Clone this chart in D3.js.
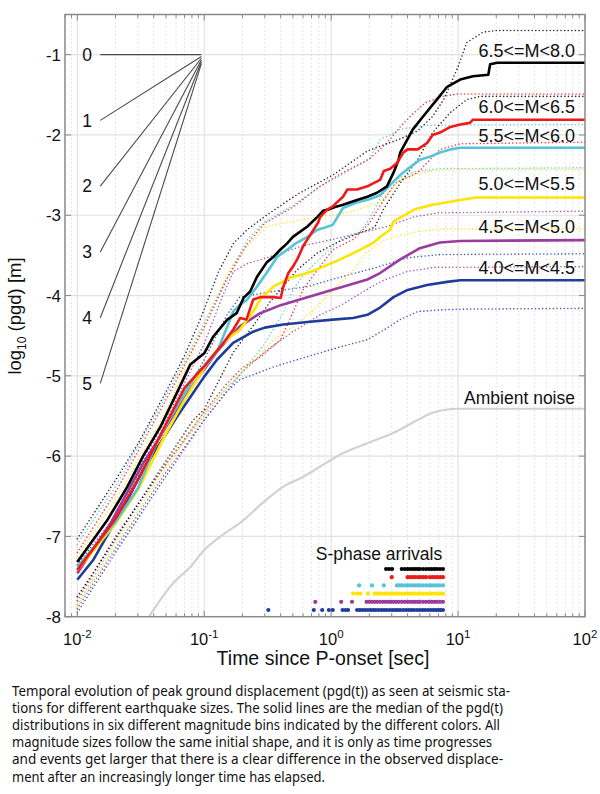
<!DOCTYPE html>
<html><head><meta charset="utf-8">
<script src="https://cdn.jsdelivr.net/npm/d3@7"></script>
<style>body{margin:0;background:#fff}</style>
</head><body>
<svg id="c" width="600" height="794" xmlns="http://www.w3.org/2000/svg"></svg>
<script>
// ---------------- DATA ----------------
const binLabels = ["6.5<=M<8.0", "6.0<=M<6.5", "5.5<=M<6.0", "5.0<=M<5.5", "4.5<=M<5.0", "4.0<=M<4.5"];
const xTickValues = [0.01, 0.1, 1, 10, 100];
const xTickExponents = ["-2", "-1", "0", "1", "2"];
const yTickValues = [-8, -7, -6, -5, -4, -3, -2, -1];
const refSlopes = [0, 1, 2, 3, 4, 5];

// medians [time s, log10 pgd]
const median_65_80 = [[0.01,-7.32],[0.0172,-6.8],[0.0248,-6.38],[0.033,-6.0],[0.045,-5.64],[0.061,-5.21],[0.0776,-4.86],[0.1,-4.72],[0.118,-4.51],[0.152,-4.3],[0.18,-4.22],[0.204,-4.03],[0.23,-3.95],[0.26,-3.77],[0.31,-3.59],[0.35,-3.52],[0.397,-3.43],[0.45,-3.35],[0.5,-3.27],[0.65,-3.14],[0.78,-3.02],[0.87,-2.94],[0.95,-2.93],[1.11,-2.89],[1.24,-2.87],[1.6,-2.81],[1.93,-2.77],[2.3,-2.72],[2.75,-2.64],[3.1,-2.47],[3.4,-2.31],[3.5,-2.22],[4.4,-1.93],[5.3,-1.77],[6.8,-1.56],[8.2,-1.4],[10.4,-1.31],[13.1,-1.27],[17.3,-1.25],[17.9,-1.12],[20.3,-1.1],[100,-1.1]];
const median_60_65 = [[0.01,-7.42],[0.02,-6.78],[0.03,-6.3],[0.05,-5.6],[0.07,-5.15],[0.1,-4.88],[0.14,-4.6],[0.17,-4.42],[0.192,-4.28],[0.215,-4.3],[0.243,-4.05],[0.276,-4.02],[0.35,-4.02],[0.4,-4.03],[0.42,-3.89],[0.46,-3.72],[0.5,-3.64],[0.54,-3.55],[0.57,-3.47],[0.6,-3.39],[0.65,-3.3],[0.79,-3.09],[0.82,-3.02],[0.93,-2.93],[1.03,-2.89],[1.11,-2.84],[1.24,-2.77],[1.34,-2.68],[1.6,-2.68],[1.93,-2.64],[2.16,-2.6],[2.43,-2.56],[2.6,-2.45],[2.92,-2.42],[3.3,-2.35],[3.7,-2.22],[4.0,-2.18],[4.8,-2.18],[5.7,-2.1],[6.3,-2.0],[7.2,-1.97],[8.7,-1.9],[10.4,-1.87],[12.4,-1.85],[13.1,-1.81],[100,-1.81]];
const median_55_60 = [[0.01,-7.38],[0.02,-6.82],[0.03,-6.4],[0.043,-5.8],[0.057,-5.46],[0.073,-5.17],[0.088,-4.96],[0.106,-4.85],[0.126,-4.7],[0.152,-4.39],[0.169,-4.2],[0.19,-4.12],[0.218,-4.05],[0.26,-3.89],[0.31,-3.72],[0.375,-3.52],[0.45,-3.43],[0.54,-3.34],[0.65,-3.27],[0.78,-3.18],[0.87,-3.16],[1.03,-3.12],[1.24,-2.91],[1.6,-2.84],[2.0,-2.8],[2.43,-2.75],[2.92,-2.62],[3.5,-2.5],[4.2,-2.4],[5.0,-2.31],[6.0,-2.27],[7.2,-2.22],[8.7,-2.18],[10.4,-2.16],[100,-2.16]];
const median_50_55 = [[0.01,-7.42],[0.02,-6.84],[0.03,-6.42],[0.05,-5.72],[0.07,-5.3],[0.1,-4.9],[0.13,-4.65],[0.16,-4.51],[0.19,-4.43],[0.218,-4.3],[0.243,-4.2],[0.276,-4.05],[0.31,-3.97],[0.35,-3.89],[0.475,-3.78],[0.65,-3.72],[0.87,-3.64],[1.18,-3.55],[1.6,-3.45],[2.16,-3.34],[2.43,-3.27],[2.92,-3.18],[3.1,-3.08],[3.5,-3.03],[4.5,-2.93],[6.3,-2.87],[10.4,-2.81],[14,-2.78],[100,-2.78]];
const median_45_50 = [[0.01,-7.46],[0.0182,-6.84],[0.033,-6.09],[0.061,-5.42],[0.093,-4.98],[0.1,-4.92],[0.126,-4.7],[0.152,-4.55],[0.192,-4.38],[0.276,-4.22],[0.4,-4.12],[0.65,-4.02],[1.18,-3.9],[1.93,-3.8],[2.43,-3.72],[3.5,-3.55],[5.0,-3.41],[7.2,-3.34],[10.4,-3.32],[100,-3.31]];
const median_40_45 = [[0.01,-7.54],[0.0134,-7.29],[0.0182,-6.92],[0.0248,-6.55],[0.033,-6.17],[0.045,-5.84],[0.061,-5.51],[0.082,-5.21],[0.1,-5.01],[0.126,-4.8],[0.169,-4.59],[0.243,-4.45],[0.3,-4.4],[0.42,-4.36],[0.65,-4.33],[1.03,-4.3],[1.49,-4.28],[1.93,-4.24],[2.43,-4.15],[3.1,-4.02],[4.0,-3.93],[5.7,-3.87],[8.2,-3.83],[10.4,-3.81],[100,-3.81]];

// upper / lower dotted percentiles
const upper_65_80 = [[0.01,-7.03],[0.02,-6.3],[0.03,-5.85],[0.05,-5.2],[0.07,-4.75],[0.093,-4.3],[0.13,-3.7],[0.17,-3.35],[0.218,-3.18],[0.31,-3.0],[0.475,-2.8],[0.57,-2.72],[1.03,-2.5],[1.93,-2.2],[3.5,-2.05],[4.8,-1.95],[6.3,-1.77],[7.7,-1.56],[10,-1.15],[11.7,-0.85],[15.7,-0.72],[20,-0.7],[100,-0.7]];
const lower_65_80 = [[0.01,-7.75],[0.0134,-7.45],[0.0248,-6.8],[0.045,-6.17],[0.082,-5.55],[0.1,-5.42],[0.169,-4.71],[0.25,-4.35],[0.33,-4.08],[0.54,-3.68],[0.78,-3.47],[1.11,-3.34],[1.5,-3.25],[2.2,-3.15],[2.6,-2.92],[3.5,-2.6],[4.8,-2.31],[6.3,-1.97],[8.7,-1.72],[11.7,-1.56],[15,-1.52],[100,-1.52]];
const upper_60_65 = [[0.01,-7.2],[0.02,-6.45],[0.05,-5.3],[0.1,-4.4],[0.15,-3.8],[0.22,-3.35],[0.3,-3.1],[0.5,-2.9],[0.8,-2.65],[1.2,-2.48],[2.0,-2.3],[2.75,-2.1],[3.5,-1.9],[4.2,-1.77],[5.5,-1.6],[7.5,-1.52],[10,-1.49],[100,-1.49]];
const lower_60_65 = [[0.01,-7.8],[0.02,-7.0],[0.05,-6.1],[0.1,-5.45],[0.15,-5.1],[0.2,-4.9],[0.28,-4.76],[0.4,-4.55],[0.5,-4.21],[0.6,-3.93],[0.78,-3.68],[1.03,-3.43],[1.5,-3.3],[2.0,-3.1],[2.5,-2.85],[3.2,-2.6],[4.8,-2.47],[7.2,-2.18],[10.4,-2.11],[100,-2.09]];
const upper_55_60 = [[0.01,-7.1],[0.02,-6.38],[0.05,-5.25],[0.1,-4.35],[0.15,-3.8],[0.22,-3.3],[0.3,-3.08],[0.5,-2.88],[0.8,-2.65],[1.2,-2.5],[2.0,-2.3],[2.43,-2.06],[3.5,-1.93],[5.7,-1.88],[100,-1.87]];
const lower_55_60 = [[0.01,-7.85],[0.02,-7.05],[0.05,-6.1],[0.1,-5.5],[0.15,-5.15],[0.2,-4.95],[0.3,-4.6],[0.42,-4.21],[0.5,-3.93],[0.6,-3.75],[0.8,-3.55],[1.2,-3.3],[1.7,-3.2],[2.0,-3.05],[2.5,-2.75],[3.2,-2.56],[4.5,-2.46],[7,-2.42],[100,-2.41]];
const upper_50_55 = [[0.01,-7.25],[0.02,-6.55],[0.05,-5.45],[0.1,-4.35],[0.14,-3.85],[0.17,-3.6],[0.2,-3.45],[0.31,-3.14],[0.57,-3.06],[1.34,-2.97],[2.4,-2.84],[3.5,-2.56],[5,-2.47],[8,-2.43],[100,-2.43]];
const lower_50_55 = [[0.01,-7.88],[0.02,-7.1],[0.05,-6.15],[0.1,-5.45],[0.15,-5.15],[0.2,-4.95],[0.28,-4.72],[0.35,-4.55],[0.5,-4.39],[0.73,-4.18],[1.03,-3.93],[1.5,-3.68],[1.93,-3.45],[2.7,-3.3],[3.5,-3.25],[5,-3.2],[8,-3.17],[100,-3.17]];
const upper_45_50 = [[0.01,-7.3],[0.02,-6.65],[0.05,-5.55],[0.1,-4.6],[0.14,-4.0],[0.17,-3.7],[0.22,-3.6],[0.31,-3.53],[0.57,-3.39],[1.03,-3.3],[1.69,-3.22],[2.75,-3.14],[4.5,-3.02],[7,-2.97],[100,-2.95]];
const lower_45_50 = [[0.01,-7.9],[0.02,-7.15],[0.05,-6.2],[0.1,-5.55],[0.15,-5.2],[0.2,-4.95],[0.3,-4.7],[0.5,-4.45],[0.8,-4.25],[1.2,-4.12],[1.8,-3.95],[2.5,-3.82],[4,-3.7],[6.5,-3.65],[100,-3.64]];
const upper_40_45 = [[0.01,-7.35],[0.02,-6.75],[0.05,-5.65],[0.1,-4.8],[0.15,-4.25],[0.19,-4.02],[0.35,-3.95],[0.65,-3.89],[1.18,-3.77],[2.16,-3.66],[4.0,-3.53],[7.2,-3.49],[100,-3.48]];
const lower_40_45 = [[0.01,-7.95],[0.02,-7.2],[0.05,-6.25],[0.1,-5.55],[0.15,-5.2],[0.19,-5.05],[0.35,-4.89],[0.65,-4.76],[1.18,-4.64],[1.93,-4.55],[2.6,-4.43],[3.5,-4.3],[4.8,-4.2],[7.2,-4.18],[10.4,-4.17],[100,-4.16]];

const ambientNoise = [[0.036,-8.02],[0.057,-7.58],[0.0776,-7.38],[0.1,-7.17],[0.152,-6.94],[0.192,-6.83],[0.29,-6.58],[0.42,-6.38],[0.6,-6.26],[0.82,-6.13],[1.18,-5.98],[1.93,-5.84],[3.1,-5.71],[4.8,-5.55],[6.3,-5.46],[10,-5.41],[100,-5.41]];

// S-phase arrival times (s)
const sArr_65_80 = [2.71,2.86,3.02,3.6,3.8,4.0,4.2,4.4,4.6,4.8,5.0,5.3,5.6,5.9,6.2,6.5,6.8,7.2,7.6];
const sArr_60_65 = [3.0,4.0,4.2,4.4,4.6,4.85,5.1,5.35,5.6,6.0,6.3,6.6,6.9,7.25,7.6];
const sArr_55_60 = [1.66,2.1,2.6,3.3,3.45,3.6,3.8,4.0,4.2,4.4,4.6,4.8,5.0,5.3,5.6,5.9,6.2,6.5,6.8,7.2,7.6];
const sArr_50_55 = [1.49,1.6,1.7,1.95,2.2,2.3,2.4,2.5,2.65,2.8,2.95,3.1,3.25,3.4,3.6,3.8,4.0,4.2,4.4,4.6,4.8,5.0,5.3,5.6,5.9,6.2,6.5,6.8,7.2,7.6];
const sArr_45_50 = [0.75,1.2,1.46,1.9,2.0,2.1,2.2,2.3,2.42,2.55,2.68,2.82,2.96,3.1,3.25,3.4,3.6,3.8,4.0,4.2,4.4,4.6,4.8,5.0,5.3,5.6,5.9,6.2,6.5,6.8,7.2,7.6];
const sArr_40_45 = [0.32,0.73,0.85,0.96,1.03,1.23,1.3,1.36,1.6,1.68,1.76,1.85,1.95,2.05,2.15,2.25,2.37,2.5,2.62,2.75,2.9,3.05,3.2,3.35,3.5,3.7,3.9,4.1,4.3,4.5,4.75,5.0,5.25,5.5,5.8,6.1,6.4,6.7,7.0,7.3,7.6];

const captionLines = [
  "Temporal evolution of peak ground displacement (pgd(t)) as seen at seismic sta-",
  "tions for different earthquake sizes. The solid lines are the median of the pgd(t)",
  "distributions in six different magnitude bins indicated by the different colors. All",
  "magnitude sizes follow the same initial shape, and it is only as time progresses",
  "and events get larger that there is a clear difference in the observed displace-",
  "ment after an increasingly longer time has elapsed."
];

// ---------------- STYLE / LAYOUT ----------------
const binColors = ["#000000", "#f01818", "#55c3d8", "#ffe400", "#9a3b9e", "#1f3c9c"];
const medians = [median_65_80, median_60_65, median_55_60, median_50_55, median_45_50, median_40_45];
const uppers = [upper_65_80, upper_60_65, upper_55_60, upper_50_55, upper_45_50, upper_40_45];
const lowers = [lower_65_80, lower_60_65, lower_55_60, lower_50_55, lower_45_50, lower_40_45];
const sArrivals = [sArr_65_80, sArr_60_65, sArr_55_60, sArr_50_55, sArr_45_50, sArr_40_45];
const labelBaselines = [56.5, 113, 141.5, 190, 233, 274];
const captionWidths = [498, 491, 488, 480, 491, 313];

const FONT = "'Liberation Sans', Arial, Helvetica, sans-serif";
const L = 65, R = 585, T = 14.5, B = 616.7;
const svg = d3.select("#c");
const x = d3.scaleLog().domain([0.008, 100]).range([L, R]);
const y = d3.scaleLinear().domain([-8, -0.5]).range([B, T]);
const isMajor = t => Math.abs(Math.log10(t) - Math.round(Math.log10(t))) < 1e-9;
const allXTicks = x.ticks().filter(t => t >= 0.008 && t <= 100);

svg.append("defs").append("clipPath").attr("id", "plotclip")
  .append("rect").attr("x", L).attr("y", T).attr("width", R - L).attr("height", B - T);

// grid
const grid = svg.append("g");
grid.selectAll(".vminor").data(allXTicks.filter(t => !isMajor(t) && t > 0.0081 && t < 99))
  .join("line").attr("x1", d => x(d)).attr("x2", d => x(d)).attr("y1", T).attr("y2", B)
  .attr("stroke", "#cccccc").attr("stroke-width", 1).attr("stroke-dasharray", "1,3");
grid.selectAll(".vmajor").data(xTickValues.filter(t => t < 100))
  .join("line").attr("x1", d => x(d)).attr("x2", d => x(d)).attr("y1", T).attr("y2", B)
  .attr("stroke", "#e2e2e2").attr("stroke-width", 1.2);
grid.selectAll(".hmajor").data(yTickValues.filter(v => v > -8))
  .join("line").attr("x1", L).attr("x2", R).attr("y1", d => y(d)).attr("y2", d => y(d))
  .attr("stroke", "#e2e2e2").attr("stroke-width", 1.2);

const line = d3.line().x(d => x(d[0])).y(d => y(d[1]));
const plot = svg.append("g").attr("clip-path", "url(#plotclip)");

// ambient noise
plot.append("path").datum(ambientNoise).attr("d", line.curve(d3.curveMonotoneX)).attr("fill", "none")
  .attr("stroke", "#d2d2d2").attr("stroke-width", 2.2);
line.curve(d3.curveLinear);

// dotted envelopes
[5, 4, 3, 2, 1, 0].forEach(i => {
  [uppers[i], lowers[i]].forEach(arr => {
    plot.append("path").datum(arr).attr("d", line).attr("fill", "none")
      .attr("stroke", binColors[i]).attr("stroke-width", 1.6)
      .attr("stroke-linecap", "round").attr("stroke-dasharray", "0,3.6")
      .attr("opacity", 0.85);
  });
});
// medians
[5, 4, 3, 2, 0, 1].forEach(i => {
  plot.append("path").datum(medians[i]).attr("d", line).attr("fill", "none")
    .attr("stroke", binColors[i]).attr("stroke-width", 2.6).attr("stroke-linejoin", "round");
});

// reference slope lines
const tStart = 0.01517, tEnd = 0.095;
const ref = svg.append("g");
ref.selectAll("line").data(refSlopes).join("line")
  .attr("x1", x(tStart)).attr("y1", k => y(-1 + k * Math.log10(tStart / 0.1)))
  .attr("x2", x(tEnd)).attr("y2", k => y(-1 + k * Math.log10(tEnd / 0.1)))
  .attr("stroke", "#4a4a4a").attr("stroke-width", 1.1);
ref.selectAll("text").data(refSlopes).join("text")
  .attr("x", 87).attr("y", k => y(-1 + k * Math.log10(tStart / 0.1)))
  .attr("dy", "0.36em").attr("text-anchor", "middle")
  .attr("font-family", FONT).attr("font-size", 17.5).attr("fill", "#111").text(k => k);

// bin labels
svg.append("g").selectAll("text").data(binLabels).join("text")
  .attr("x", 575).attr("y", (d, i) => labelBaselines[i]).attr("text-anchor", "end")
  .attr("font-family", FONT).attr("font-size", 18).attr("fill", "#111").text(d => d);

svg.append("text").attr("x", 575).attr("y", 404).attr("text-anchor", "end")
  .attr("font-family", FONT).attr("font-size", 17.5).attr("fill", "#111").text("Ambient noise");

// S-phase arrivals
svg.append("text").attr("x", 379).attr("y", 560).attr("text-anchor", "middle")
  .attr("font-family", FONT).attr("font-size", 17.5).attr("fill", "#111").text("S-phase arrivals");
sArrivals.forEach((arr, i) => {
  svg.append("g").selectAll("circle").data(arr).join("circle")
    .attr("cx", d => x(d)).attr("cy", 569 + i * 8.2).attr("r", 2.1)
    .attr("fill", binColors[i]);
});

// frame & ticks
const axes = svg.append("g").attr("stroke", "#8a8a8a");
axes.append("rect").attr("x", L).attr("y", T).attr("width", R - L).attr("height", B - T)
  .attr("fill", "none").attr("stroke-width", 1.5);
const tickLen = t => isMajor(t) ? 6 : 3.5;
axes.selectAll(".xb").data(allXTicks).join("line")
  .attr("x1", d => x(d)).attr("x2", d => x(d)).attr("y1", B).attr("y2", d => B - tickLen(d)).attr("stroke-width", 1);
axes.selectAll(".xt").data(allXTicks).join("line")
  .attr("x1", d => x(d)).attr("x2", d => x(d)).attr("y1", T).attr("y2", d => T + tickLen(d)).attr("stroke-width", 1);
axes.selectAll(".yl").data(yTickValues).join("line")
  .attr("x1", L).attr("x2", L + 6).attr("y1", d => y(d)).attr("y2", d => y(d)).attr("stroke-width", 1);
axes.selectAll(".yr").data(yTickValues).join("line")
  .attr("x1", R).attr("x2", R - 6).attr("y1", d => y(d)).attr("y2", d => y(d)).attr("stroke-width", 1);

// tick labels
svg.append("g").selectAll("text").data(yTickValues).join("text")
  .attr("x", 61).attr("y", d => y(d)).attr("dy", "0.36em").attr("text-anchor", "end")
  .attr("font-family", FONT).attr("font-size", 17).attr("fill", "#111").text(d => d);
const xl = svg.append("g").selectAll("text").data(xTickValues).join("text")
  .attr("x", d => x(d)).attr("y", 645).attr("text-anchor", "middle")
  .attr("font-family", FONT).attr("font-size", 16.5).attr("fill", "#111");
xl.append("tspan").text("10");
xl.append("tspan").attr("font-size", 11.5).attr("dy", -7.5).text((d, i) => xTickExponents[i]);

// axis titles
svg.append("text").attr("x", 323).attr("y", 665).attr("text-anchor", "middle")
  .attr("font-family", FONT).attr("font-size", 19.5).attr("fill", "#111").text("Time since P-onset [sec]");
const yt = svg.append("text").attr("transform", "translate(21,316) rotate(-90)")
  .attr("text-anchor", "middle").attr("font-family", FONT).attr("font-size", 18.5).attr("fill", "#111");
yt.append("tspan").text("log");
yt.append("tspan").attr("font-size", 12).attr("dy", 5).text("10");
yt.append("tspan").attr("dy", -5).text(" (pgd) [m]");

// caption
svg.append("g").selectAll("text").data(captionLines).join("text")
  .attr("x", 12).attr("y", (d, i) => 696 + i * 17.1)
  .attr("textLength", (d, i) => captionWidths[i]).attr("lengthAdjust", "spacingAndGlyphs")
  .attr("font-family", "'Noto Sans', 'DejaVu Sans', sans-serif").attr("font-size", 13.5)
  .attr("fill", "#111").text(d => d);
</script>
</body></html>
